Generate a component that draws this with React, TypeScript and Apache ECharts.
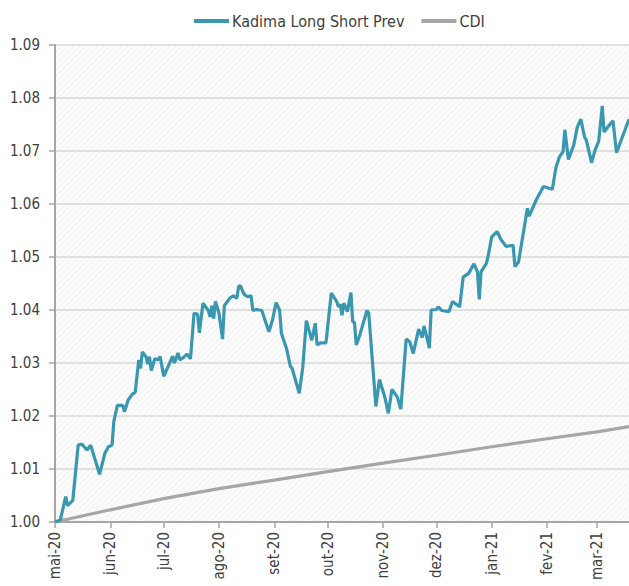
import React, { useEffect, useRef } from "react";
import * as echarts from "echarts";

const kadimaDates = [
  "2020-05-01","2020-05-04","2020-05-07","2020-05-08","2020-05-11","2020-05-14","2020-05-16","2020-05-19","2020-05-21","2020-05-26",
  "2020-05-29","2020-05-31","2020-06-02","2020-06-03","2020-06-05","2020-06-08","2020-06-09","2020-06-11","2020-06-13","2020-06-15",
  "2020-06-17","2020-06-18","2020-06-19","2020-06-21","2020-06-22","2020-06-23","2020-06-24","2020-06-26","2020-06-28","2020-06-29",
  "2020-07-01","2020-07-03","2020-07-06","2020-07-07","2020-07-09","2020-07-10","2020-07-12","2020-07-14","2020-07-16","2020-07-18",
  "2020-07-20","2020-07-21","2020-07-23","2020-07-26","2020-07-27","2020-07-28","2020-07-29","2020-07-30","2020-08-01","2020-08-03",
  "2020-08-04","2020-08-07","2020-08-09","2020-08-11","2020-08-12","2020-08-13","2020-08-15","2020-08-17","2020-08-19","2020-08-20",
  "2020-08-22","2020-08-25","2020-08-29","2020-08-31","2020-09-02","2020-09-04","2020-09-05","2020-09-08","2020-09-10","2020-09-11",
  "2020-09-15","2020-09-17","2020-09-19","2020-09-22","2020-09-24","2020-09-25","2020-09-27","2020-09-30","2020-10-03","2020-10-06",
  "2020-10-07","2020-10-08","2020-10-09","2020-10-10","2020-10-12","2020-10-14","2020-10-15","2020-10-16","2020-10-17","2020-10-19",
  "2020-10-23","2020-10-24","2020-10-28","2020-10-30","2020-11-02","2020-11-04","2020-11-06","2020-11-09","2020-11-11","2020-11-14",
  "2020-11-16","2020-11-18","2020-11-21","2020-11-23","2020-11-24","2020-11-27","2020-11-28","2020-12-01","2020-12-02","2020-12-04",
  "2020-12-08","2020-12-10","2020-12-14","2020-12-16","2020-12-19","2020-12-22","2020-12-24","2020-12-25","2020-12-26","2020-12-29",
  "2020-12-30","2021-01-01","2021-01-04","2021-01-06","2021-01-09","2021-01-13","2021-01-14","2021-01-16","2021-01-19","2021-01-21",
  "2021-01-22","2021-01-26","2021-01-30","2021-02-04","2021-02-06","2021-02-08","2021-02-10","2021-02-11","2021-02-13","2021-02-16",
  "2021-02-18","2021-02-20","2021-02-22","2021-02-23","2021-02-26","2021-02-28","2021-03-02","2021-03-04","2021-03-05","2021-03-08",
  "2021-03-10","2021-03-12","2021-03-15","2021-03-19"
];

const kadimaValues = [
  1.0000,1.0004,1.0048,1.0031,1.0041,1.0145,1.0147,1.0136,1.0145,1.0090,
  1.0130,1.0142,1.0145,1.0190,1.0220,1.0220,1.0208,1.0230,1.0240,1.0245,
  1.0306,1.0290,1.0321,1.0312,1.0298,1.0312,1.0286,1.0308,1.0306,1.0312,
  1.0275,1.0290,1.0313,1.0300,1.0319,1.0306,1.0310,1.0317,1.0308,1.0394,
  1.0392,1.0357,1.0413,1.0399,1.0387,1.0408,1.0384,1.0416,1.0394,1.0345,
  1.0408,1.0422,1.0427,1.0422,1.0444,1.0446,1.0430,1.0425,1.0427,1.0399,
  1.0401,1.0399,1.0359,1.0381,1.0414,1.0400,1.0356,1.0326,1.0294,1.0290,
  1.0243,1.0292,1.0380,1.0343,1.0375,1.0334,1.0338,1.0338,1.0432,1.0416,
  1.0406,1.0411,1.0390,1.0413,1.0397,1.0433,1.0378,1.0376,1.0334,1.0353,
  1.0399,1.0394,1.0218,1.0269,1.0236,1.0205,1.0250,1.0236,1.0213,1.0345,
  1.0340,1.0318,1.0364,1.0348,1.0370,1.0328,1.0400,1.0401,1.0406,1.0399,
  1.0397,1.0416,1.0406,1.0462,1.0469,1.0487,1.0472,1.0420,1.0472,1.0488,
  1.0502,1.0538,1.0548,1.0534,1.0520,1.0522,1.0482,1.0490,1.0551,1.0592,
  1.0577,1.0608,1.0633,1.0628,1.0669,1.0689,1.0699,1.0740,1.0684,1.0711,
  1.0745,1.0760,1.0727,1.0721,1.0678,1.0702,1.0718,1.0785,1.0736,1.0749,
  1.0757,1.0697,1.0724,1.0760
];

const cdiDates = [
  "2020-05-01","2020-06-01","2020-07-01","2020-08-01","2020-09-01","2020-10-01",
  "2020-11-01","2020-12-01","2021-01-01","2021-02-01","2021-03-01","2021-03-19"
];
const cdiValues = [1.0, 1.0023, 1.0044, 1.0063, 1.0079, 1.0095, 1.0111, 1.0126, 1.0142, 1.0157, 1.017, 1.018];

const tickDates = [
  "2020-05-01","2020-06-01","2020-07-01","2020-08-01","2020-09-01","2020-10-01",
  "2020-11-01","2020-12-01","2021-01-01","2021-02-01","2021-03-01"
];
const tickLabels = ["mai-20","jun-20","jul-20","ago-20","set-20","out-20","nov-20","dez-20","jan-21","fev-21","mar-21"];

const seriesNames = ["Kadima Long Short Prev", "CDI"];

const FONT = "'Liberation Sans Narrow', 'DejaVu Sans Condensed', 'Open Sans', sans-serif";

const ts = (s: string) => Date.UTC(+s.slice(0, 4), +s.slice(5, 7) - 1, +s.slice(8, 10));

function makePattern() {
  const c = document.createElement("canvas");
  c.width = 6;
  c.height = 6;
  const ctx = c.getContext("2d");
  if (ctx) {
    ctx.fillStyle = "#fcfcfc";
    ctx.fillRect(0, 0, 6, 6);
    ctx.strokeStyle = "#f4f4f4";
    ctx.lineWidth = 1.5;
    ctx.beginPath();
    ctx.moveTo(-1, 7);
    ctx.lineTo(7, -1);
    ctx.moveTo(-4, 4);
    ctx.lineTo(4, -4);
    ctx.moveTo(2, 10);
    ctx.lineTo(10, 2);
    ctx.stroke();
  }
  return c;
}

export default function App() {
  const ref = useRef<HTMLDivElement>(null);
  useEffect(() => {
    if (!ref.current) return;
    const chart = echarts.init(ref.current, undefined, { renderer: "svg" });
    const ticks = tickDates.map(ts);
    const labelFor = (v: number) => {
      const i = ticks.indexOf(v);
      return i >= 0 ? tickLabels[i] : "";
    };
    chart.setOption({
      animation: false,
      backgroundColor: "#ffffff",
      legend: {
        top: 8,
        left: 189,
        icon: "rect",
        itemWidth: 35,
        itemHeight: 4,
        itemGap: 17,
        textStyle: { fontFamily: FONT, fontSize: 16, color: "#404040", padding: [0, 0, 0, -2] },
        data: seriesNames,
      },
      grid: {
        left: 55,
        right: 0,
        top: 45,
        bottom: 64,
        show: true,
        borderWidth: 0,
        backgroundColor: { image: makePattern(), repeat: "repeat" },
      },
      xAxis: {
        type: "value",
        min: ts("2020-05-01"),
        max: ts("2021-03-19"),
        axisLine: { show: true, onZero: false, lineStyle: { color: "#a6a6a6", width: 2 } },
        axisTick: { show: true, customValues: ticks, length: 6, lineStyle: { color: "#a6a6a6", width: 1.5 } },
        axisLabel: {
          customValues: ticks,
          rotate: 90,
          margin: 10,
          fontFamily: FONT,
          fontSize: 15,
          color: "#404040",
          formatter: (v: number) => labelFor(v),
        },
        splitLine: { show: false },
      },
      yAxis: {
        type: "value",
        min: 1.0,
        max: 1.09,
        interval: 0.01,
        axisLine: { show: true, lineStyle: { color: "#a6a6a6", width: 2 } },
        axisTick: { show: true, length: 6, lineStyle: { color: "#a6a6a6", width: 1.5 } },
        axisLabel: {
          margin: 15,
          fontFamily: FONT,
          fontSize: 15,
          color: "#404040",
          formatter: (v: number) => v.toFixed(2),
        },
        splitLine: { show: true, lineStyle: { color: "#d9d9d9", width: 1.5 } },
      },
      series: [
        {
          name: seriesNames[0],
          type: "line",
          symbol: "none",
          showSymbol: false,
          data: kadimaDates.map((d, i) => [ts(d), kadimaValues[i]]),
          lineStyle: { color: "#3a97b0", width: 3.2 },
          itemStyle: { color: "#3a97b0" },
          z: 3,
        },
        {
          name: seriesNames[1],
          type: "line",
          symbol: "none",
          showSymbol: false,
          data: cdiDates.map((d, i) => [ts(d), cdiValues[i]]),
          lineStyle: { color: "#a6a6a6", width: 3.2 },
          itemStyle: { color: "#a6a6a6" },
          z: 2,
        },
      ],
    });
    return () => chart.dispose();
  }, []);
  return (
    <div
      ref={ref}
      style={{ position: "fixed", left: 0, top: 0, width: 629, height: 586 }}
    />
  );
}
